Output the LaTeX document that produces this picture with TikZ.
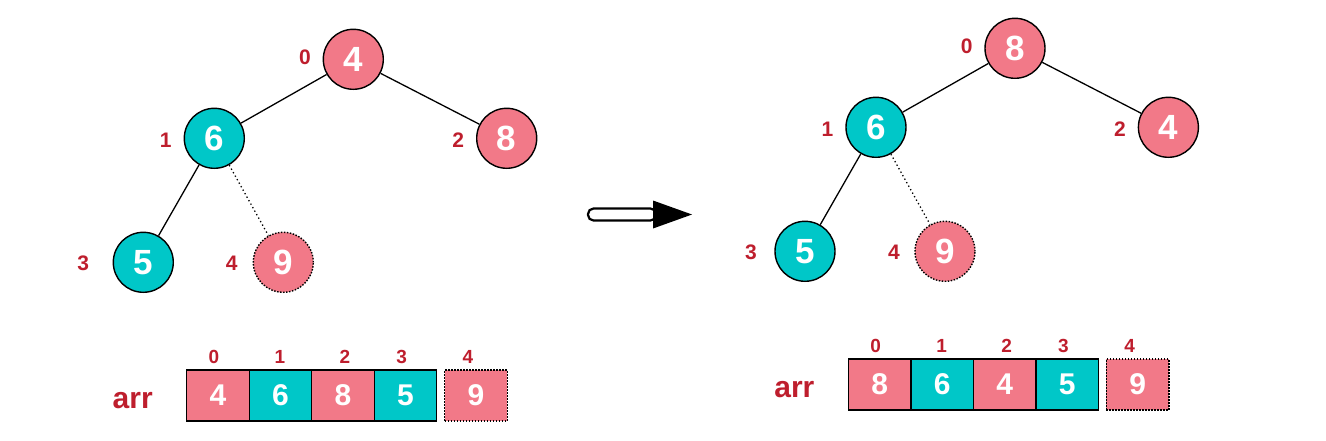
\documentclass[tikz,border=0pt]{standalone}
\usepackage{fontspec}
\setmainfont{Liberation Sans}
\definecolor{hpink}{RGB}{242,121,136}
\definecolor{hteal}{RGB}{0,199,200}
\definecolor{hred}{RGB}{190,30,45}
\tikzset{
  tnode/.style={circle, draw=black, line width=1.4pt, minimum size=60pt, inner sep=0pt, text=white, font=\fontsize{35}{35}\selectfont\bfseries},
  pinkn/.style={tnode, fill=hpink},
  tealn/.style={tnode, fill=hteal},
  newn/.style={tnode, fill=hpink, dash pattern=on 1.5pt off 1.5pt},
  idx/.style={text=hred, font=\fontsize{21}{21}\selectfont\bfseries, inner sep=0pt},
  aidx/.style={text=hred, font=\fontsize{19}{19}\selectfont\bfseries, inner sep=0pt},
  arrlabel/.style={text=hred, font=\fontsize{30}{30}\selectfont\bfseries, inner sep=0pt},
  cell/.style={draw=black, line width=1.4pt, minimum width=62.5pt, minimum height=51pt, inner sep=0pt, text=white, font=\fontsize{30}{30}\selectfont\bfseries},
  pinkc/.style={cell, fill=hpink},
  tealc/.style={cell, fill=hteal},
  newc/.style={cell, fill=hpink, dash pattern=on 1.5pt off 1.5pt},
  treeedge/.style={line width=1.3pt},
  newedge/.style={line width=1.3pt, dash pattern=on 1.3pt off 2.7pt},
}
\begin{document}
\begin{tikzpicture}[x=1pt, y=-1pt]
\useasboundingbox (0,0) rectangle (1326,440);

% ---------- left: before ----------
\node[pinkn] (La) at (353.3,59.3) {4};
\node[tealn] (Lb) at (214.3,138.3) {6};
\node[pinkn] (Lc) at (506.7,138.3) {8};
\node[tealn] (Ld) at (143.3,262.3) {5};
\node[newn]  (Le) at (283.3,262.3) {9};
\draw[treeedge] (La) -- (Lb);
\draw[treeedge] (La) -- (Lc);
\draw[treeedge] (Lb) -- (Ld);
\draw[newedge]  (Lb) -- (Le);
\node[idx] (Lia) at (305,57.7) {0};
\node[idx] (Lib) at (165.7,140) {1};
\node[idx] (Lic) at (458.3,140) {2};
\node[idx] (Lid) at (83.3,263) {3};
\node[idx] (Lie) at (231.7,263) {4};

\node[arrlabel] (Larr) at (132.7,400.5) {arr};
\node[pinkc] (Lca) at (218,395.5) {4};
\node[tealc] (Lcb) at (280.5,395.5) {6};
\node[pinkc] (Lcc) at (343,395.5) {8};
\node[tealc] (Lcd) at (405.5,395.5) {5};
\node[newc]  (Lce) at (476,395.5) {9};
\node[aidx] (Lka) at (214,356.7) {0};
\node[aidx] (Lkb) at (280,356.7) {1};
\node[aidx] (Lkc) at (345,356.7) {2};
\node[aidx] (Lkd) at (401.7,356.7) {3};
\node[aidx] (Lke) at (468,356.7) {4};

% ---------- transition arrow ----------
\draw[line width=2.2pt, fill=white, rounded corners=5.5pt] (588,208.5) rectangle (656,220.5);
\fill (653,200.5) -- (692,214.5) -- (653,228.5) -- cycle;

% ---------- right: after ----------
\begin{scope}[shift={(661.7,-11)}]
\node[pinkn] (Ra) at (353.3,59.3) {8};
\node[tealn] (Rb) at (214.3,138.3) {6};
\node[pinkn] (Rc) at (506.7,138.3) {4};
\node[tealn] (Rd) at (143.3,262.3) {5};
\node[newn]  (Re) at (283.3,262.3) {9};
\draw[treeedge] (Ra) -- (Rb);
\draw[treeedge] (Ra) -- (Rc);
\draw[treeedge] (Rb) -- (Rd);
\draw[newedge]  (Rb) -- (Re);
\node[idx] (Ria) at (305,57.7) {0};
\node[idx] (Rib) at (165.7,140) {1};
\node[idx] (Ric) at (458.3,140) {2};
\node[idx] (Rid) at (89.3,263) {3};
\node[idx] (Rie) at (232.3,263) {4};

\node[arrlabel] (Rarr) at (132.7,400.5) {arr};
\node[pinkc] (Rca) at (218,395.5) {8};
\node[tealc] (Rcb) at (280.5,395.5) {6};
\node[pinkc] (Rcc) at (343,395.5) {4};
\node[tealc] (Rcd) at (405.5,395.5) {5};
\node[newc]  (Rce) at (476,395.5) {9};
\node[aidx] (Rka) at (214,356.7) {0};
\node[aidx] (Rkb) at (280,356.7) {1};
\node[aidx] (Rkc) at (345,356.7) {2};
\node[aidx] (Rkd) at (401.7,356.7) {3};
\node[aidx] (Rke) at (468,356.7) {4};
\end{scope}
\end{tikzpicture}
\end{document}
